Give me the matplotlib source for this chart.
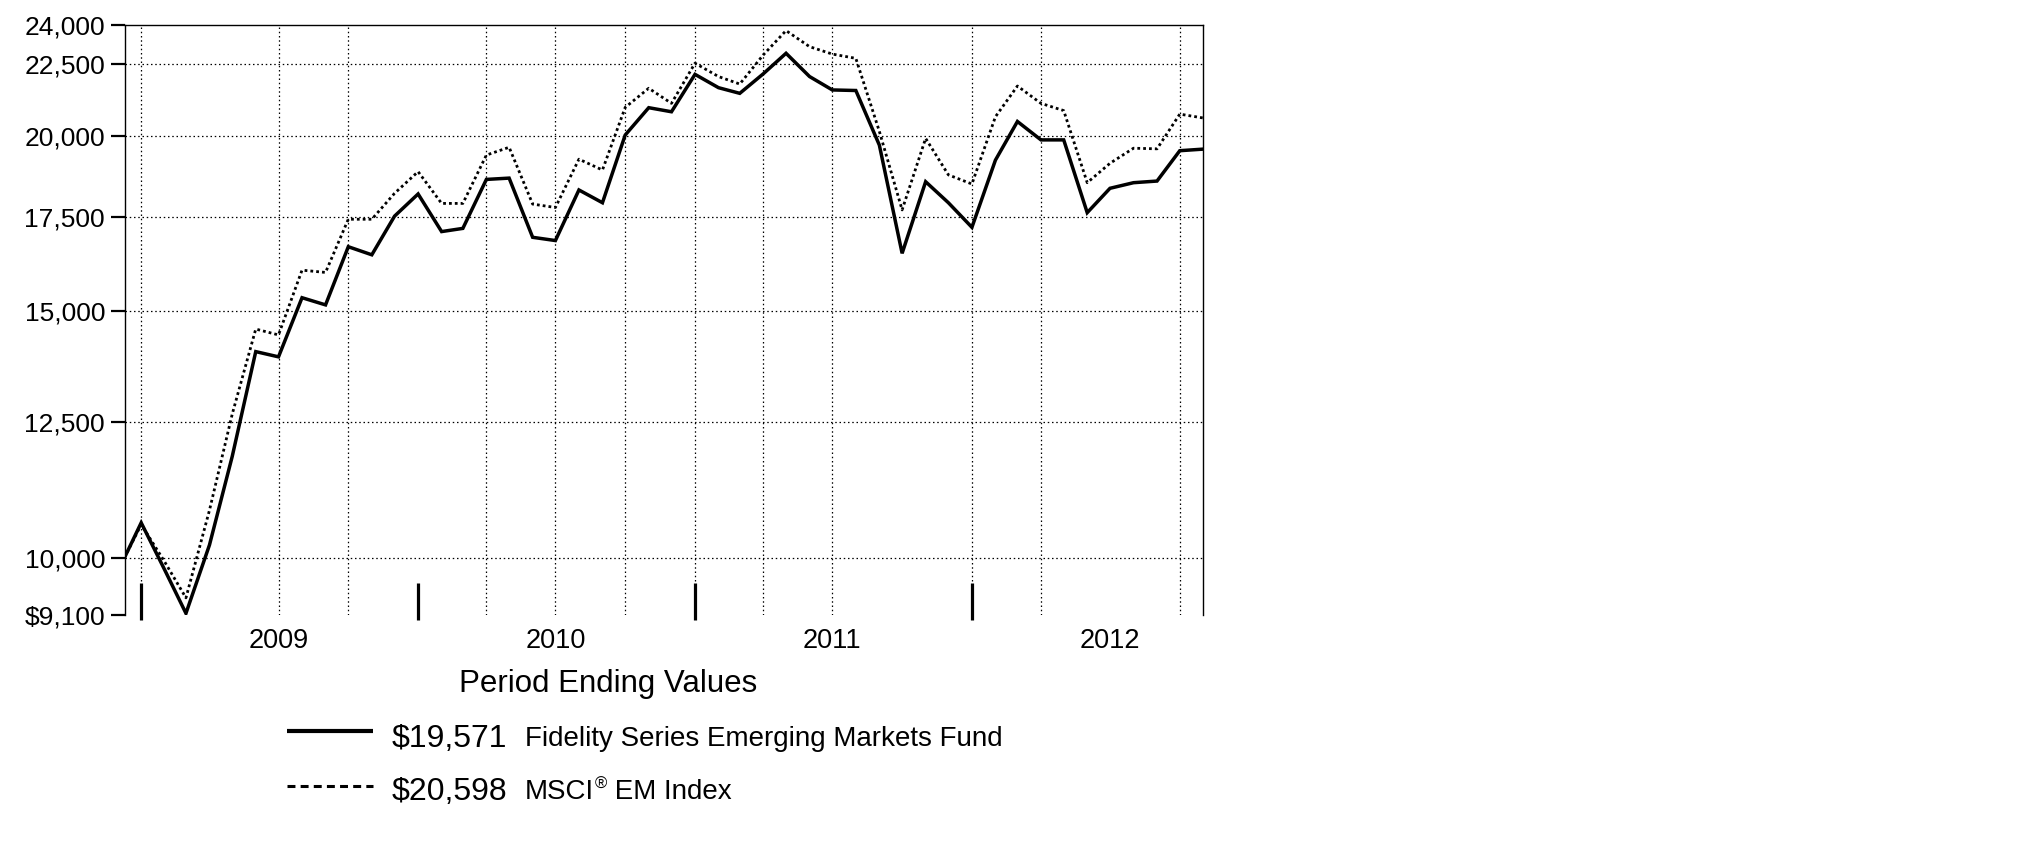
import matplotlib
matplotlib.use("Agg")
import matplotlib.pyplot as plt
from matplotlib.lines import Line2D
from matplotlib.ticker import FixedLocator, NullLocator
import pandas as pd

plt.rcParams['font.family'] = ['Liberation Sans', 'DejaVu Sans']

# inception date, then month ends Dec 2008 .. Oct 2012
dates = [pd.Timestamp("2008-12-09")] + list(
    pd.date_range("2008-12-31", periods=47, freq=pd.offsets.MonthEnd()))

fund = [10000, 10590, 9800, 9125, 10210, 11810, 14030, 13910, 15330, 15150,
        16670, 16450, 17530, 18180, 17090, 17180, 18620, 18660, 16930, 16840,
        18300, 17920, 20030, 20950, 20810, 22130, 21650, 21450, 22150, 22910,
        22050, 21570, 21550, 19700, 16490, 18550, 17920, 17210, 19220, 20480,
        19870, 19870, 17630, 18350, 18520, 18570, 19520, 19571]
index = [10000, 10560, 9930, 9360, 10810, 12660, 14560, 14420, 16040, 15980,
         17440, 17440, 18200, 18860, 17900, 17900, 19380, 19630, 17880, 17780,
         19250, 18910, 20960, 21630, 21100, 22540, 22050, 21780, 22850, 23780,
         23160, 22880, 22720, 20150, 17710, 19920, 18760, 18480, 20640, 21710,
         21100, 20850, 18520, 19120, 19600, 19580, 20730, 20598]

y_ticks = [9100, 10000, 12500, 15000, 17500, 20000, 22500, 24000]
y_labels = ["$9,100", "10,000", "12,500", "15,000", "17,500", "20,000", "22,500", "24,000"]
y_grid = [10000, 12500, 15000, 17500, 20000, 22500]

x_grid = pd.to_datetime(["2008-12-31", "2009-06-30", "2009-09-30", "2010-03-31",
                         "2010-06-30", "2010-09-30", "2010-12-31", "2011-03-31",
                         "2011-06-30", "2011-12-31", "2012-03-31", "2012-09-30"])
year_marks = pd.to_datetime(["2008-12-31", "2009-12-31", "2010-12-31", "2011-12-31"])
year_centers = pd.to_datetime(["2009-06-30", "2010-06-30", "2011-06-30", "2012-06-30"])
years = ["2009", "2010", "2011", "2012"]

W, H = 2025, 851
fig = plt.figure(figsize=(W / 100, H / 100), dpi=100)
ax = fig.add_axes([124.5 / W, 1 - 615 / H, (1203.3 - 124.5) / W, 590 / H])

grid_style = dict(color="black", lw=0.9, ls=(0, (1.2, 2.2)), zorder=1)
for d in x_grid:
    ax.axvline(d, **grid_style)
for v in y_grid:
    ax.axhline(v, **grid_style)

ax.plot(dates, fund, color="black", lw=2.5, solid_joinstyle="miter", zorder=3)
ax.plot(dates, index, color="black", lw=2.0, ls=(0, (1, 1.1)), zorder=3)

ax.set_yscale("log")
ax.set_ylim(9100, 24000)
ax.set_xlim(dates[0], dates[-1])

ax.yaxis.set_major_locator(FixedLocator(y_ticks))
ax.yaxis.set_minor_locator(NullLocator())
ax.set_yticklabels(y_labels)
ax.tick_params(axis="y", length=10, width=1.6, pad=4, labelsize=19, direction="out")

ax.set_xticks(year_centers)
ax.set_xticklabels(years)
ax.xaxis.set_minor_locator(NullLocator())
ax.tick_params(axis="x", length=0, pad=9, labelsize=19.5)

# year boundary marks at the bottom
for d in year_marks:
    ax.axvline(d, ymin=-5 / 590, ymax=32 / 590, color="black", lw=2.3,
               clip_on=False, solid_capstyle="butt", zorder=4)

ax.spines["bottom"].set_visible(False)
for s in ["left", "top", "right"]:
    ax.spines[s].set_linewidth(1.0)

# legend block
fig.text(608 / W, 1 - 684 / H, "Period Ending Values", ha="center", va="center", fontsize=22.5)
fig.add_artist(Line2D([287 / W, 373 / W], [1 - 731 / H] * 2, color="black", lw=3,
                      solid_capstyle="butt"))
fig.add_artist(Line2D([287 / W, 373 / W], [1 - 786 / H] * 2, color="black", lw=2.2,
                      ls=(0, (2.6, 1.7))))
fig.text(391.7 / W, 1 - 739 / H, "$19,571", ha="left", va="center", fontsize=23)
fig.text(525 / W, 1 - 739 / H, "Fidelity Series Emerging Markets Fund", ha="left",
         va="center", fontsize=20)
fig.text(391.7 / W, 1 - 792 / H, "$20,598", ha="left", va="center", fontsize=23)
t = fig.text(525 / W, 1 - 792 / H, "MSCI", ha="left", va="center", fontsize=20)
fig.canvas.draw()
bb = t.get_window_extent()
reg = fig.text(bb.x1 / W + 1 / W, 1 - 784 / H, "®", ha="left", va="center", fontsize=12)
fig.canvas.draw()
bb2 = reg.get_window_extent()
fig.text(bb2.x1 / W, 1 - 792 / H, " EM Index", ha="left", va="center", fontsize=20)

fig.savefig("out.png", dpi=100)
